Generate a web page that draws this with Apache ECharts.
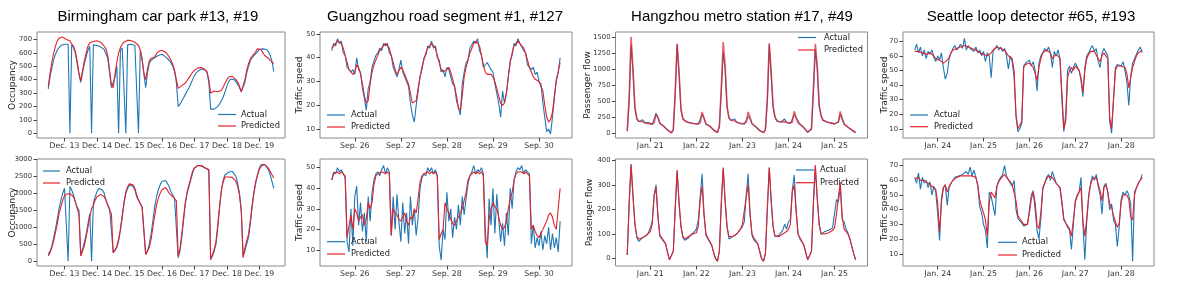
<!DOCTYPE html>
<html>
<head>
<meta charset="utf-8">
<script src="https://cdn.jsdelivr.net/npm/echarts@6/dist/echarts.min.js"></script>
<style>
html,body{margin:0;padding:0;background:#fff;}
#chart{width:1196px;height:283px;}
</style>
</head>
<body>
<div id="chart"></div>
<script>
// ---------------- DATA ----------------
const titles = ['Birmingham car park #13, #19', 'Guangzhou road segment #1, #127', 'Hangzhou metro station #17, #49', 'Seattle loop detector #65, #193'];
const seriesNames = ['Actual', 'Predicted'];

const bhamDays = ['Dec. 13', 'Dec. 14', 'Dec. 15', 'Dec. 16', 'Dec. 17', 'Dec. 18', 'Dec. 19'];
const gzDays = ['Sep. 26', 'Sep. 27', 'Sep. 28', 'Sep. 29', 'Sep. 30'];
const hzDays = ['Jan. 21', 'Jan. 22', 'Jan. 23', 'Jan. 24', 'Jan. 25'];
const seDays = ['Jan. 24', 'Jan. 25', 'Jan. 26', 'Jan. 27', 'Jan. 28'];

const bham13Ticks = [0, 100, 200, 300, 400, 500, 600, 700];
const bham19Ticks = [0, 500, 1000, 1500, 2000, 2500, 3000];
const gzTicks = [10, 20, 30, 40, 50];
const hz17Ticks = [0, 250, 500, 750, 1000, 1250, 1500];
const hz49Ticks = [0, 100, 200, 300, 400];
const seTicks = [10, 20, 30, 40, 50, 60, 70];

// Birmingham: 18 samples per day (08:00-16:30)
const bham13Actual = [
330,420,490,550,590,620,640,655,660,665,665,665,0,660,640,600,520,440,
380,450,520,570,620,650,0,660,660,655,650,645,635,625,615,560,450,340,
330,420,500,0,620,635,640,0,660,665,665,660,655,650,0,620,560,440,
340,450,520,545,555,565,575,580,585,590,580,570,560,545,525,500,460,380,
200,215,240,265,290,315,340,370,400,430,450,465,475,480,478,470,450,380,
180,180,180,185,200,220,245,270,310,350,385,405,410,400,385,365,340,310,
300,380,450,500,540,565,580,590,610,625,630,630,630,625,610,580,540,460];
const bham13Pred = [
350,450,530,600,650,690,710,720,718,712,700,705,690,665,650,610,540,450,
390,470,540,600,650,675,680,685,690,690,685,680,665,650,630,580,470,360,
340,440,530,600,640,665,680,690,695,695,690,685,680,670,655,620,550,450,
400,480,540,560,560,570,595,610,620,620,615,605,590,570,545,515,470,400,
335,340,355,365,375,395,415,435,455,470,480,488,490,490,485,475,460,400,
300,305,315,320,310,305,320,345,375,400,420,430,425,415,400,380,350,310,
310,400,470,520,555,575,590,610,630,640,625,600,580,570,560,545,530,520];
const bham19Actual = [
200,300,450,700,950,1250,1550,1800,2000,2150,2200,0,2200,2100,1950,1750,1600,1500,
200,350,550,800,1100,1400,0,1700,1900,2050,2150,2150,2100,2000,1800,1650,1550,1500,
250,300,400,600,900,1300,1700,2000,2150,2250,2250,2200,2100,1900,1800,1700,1600,1550,
200,300,500,800,1200,1600,1900,2100,2250,2350,2400,2380,2300,2200,2050,1950,1850,1800,
100,300,700,1200,1700,2000,2200,2400,2600,2750,2800,2820,2830,2800,2780,2750,2700,2680,
50,150,300,500,1000,1600,2100,2400,2550,2600,2620,2650,2650,2620,2500,2300,2000,1500,
150,300,500,700,1100,1600,2000,2300,2550,2750,2850,2870,2850,2800,2700,2550,2350,2150];
const bham19Pred = [
150,250,400,600,850,1100,1400,1600,1800,1920,1980,1990,1990,1970,1900,1750,1550,1400,
150,300,450,700,1000,1300,1550,1650,1800,1900,1950,1970,1950,1900,1800,1650,1500,1400,
250,320,450,650,950,1350,1750,2050,2200,2280,2300,2250,2150,1950,1800,1700,1600,1550,
200,250,400,650,1000,1350,1650,1850,2000,2100,2150,2170,2100,2000,1950,1900,1850,1780,
150,350,800,1300,1750,2050,2250,2450,2650,2750,2800,2820,2840,2820,2780,2750,2720,2700,
50,200,350,600,1100,1650,2100,2350,2480,2500,2480,2480,2470,2450,2350,2200,1950,1450,
100,400,600,800,1200,1650,2050,2350,2550,2700,2800,2850,2850,2800,2750,2650,2550,2450];

// Guangzhou: 24 samples per day
const gz1Actual = [
43,46,45,48,46,47,42,41,36,36,34,35,33,40,35,34,27,23,18,27,30,36,36,41,
42,44,43,46,45,46,42,41,36,36,32,35,39,34,34,30,28,21,16,13,20,26,32,35,
40,41,45,44,47,44,45,40,39,34,35,32,36,35,35,29,28,22,19,16,29,34,38,39,
44,44,47,46,48,43,41,36,36,38,38,35,34,29,25,21,15,26,21,25,32,39,41,46,
45,48,46,46,43,42,37,37,35,36,33,34,30,29,21,15,9,10,8,15,23,31,34,40];
const gz1Pred = [
44,45,46,47,47,46,44,41,38,35,34,33,34,37,36,33,29,24,21,22,29,34,37,39,
41,43,44,45,46,46,44,41,38,35,33,33,36,35,33,31,29,25,21,21,22,27,32,36,
39,42,44,45,46,45,44,41,38,35,34,34,35,36,34,31,28,24,19,18,24,32,36,39,
42,44,46,47,46,45,41,37,34,33,33,33,32,30,27,24,21,20,21,25,32,38,42,45,
46,47,46,45,44,42,39,36,34,32,31,31,30,30,26,20,15,13,14,17,24,30,34,38];
const gz127Actual = [
44,48,47,50,48,49,47,45,14,9,30,12,36,41,22,33,19,28,14,36,24,38,44,47,
48,46,49,51,47,50,48,17,36,20,37,24,14,33,18,28,13,36,22,30,17,26,40,45,
47,46,50,48,50,47,49,46,12,5,20,15,38,24,30,16,26,20,32,22,36,27,35,42,
46,48,51,47,49,48,50,47,20,6,35,22,40,18,37,25,14,23,12,28,17,40,30,44,
48,50,49,51,47,49,48,47,13,22,11,16,12,19,10,17,13,21,10,18,11,16,9,24];
const gz127Pred = [
44,47,47,48,47,48,47,46,16,22,27,20,30,28,24,26,27,22,25,33,30,33,42,46,
47,47,48,48,47,48,47,17,30,28,27,25,24,26,28,24,22,26,25,30,28,35,43,46,
47,47,48,47,48,47,48,46,15,18,20,33,30,28,25,23,22,24,26,28,30,34,38,44,
46,47,48,47,48,47,48,46,14,12,25,30,33,31,30,26,22,20,21,24,30,35,38,44,
47,48,48,48,47,48,47,46,20,22,19,17,16,18,20,22,24,27,28,26,22,20,30,40];

// Hangzhou: 24 samples per day
const hz17Actual = [
30,500,1380,950,380,220,180,170,210,160,150,165,140,130,150,310,250,150,130,110,80,50,20,5,
50,600,1380,900,350,220,190,175,165,160,150,150,145,140,150,290,230,140,125,110,80,50,20,10,
100,650,1250,1000,400,240,200,185,220,170,160,150,145,140,150,260,220,145,120,100,70,40,15,10,
50,500,1380,900,400,250,190,180,175,170,220,165,160,150,160,290,240,230,140,120,90,50,15,5,
60,650,1300,1000,420,280,200,180,175,170,160,150,145,140,170,290,220,140,110,90,70,50,30,10];
const hz17Pred = [
40,550,1500,1000,400,230,185,175,180,165,155,160,145,135,160,290,240,155,130,105,80,50,20,5,
60,650,1390,950,380,230,190,175,165,160,150,150,145,140,160,330,240,145,125,110,80,50,25,10,
110,700,1420,1050,420,240,200,185,190,170,160,150,145,140,170,330,250,150,120,100,70,40,15,10,
60,550,1400,950,420,250,190,180,175,170,180,165,160,150,170,340,240,160,135,115,90,50,15,5,
70,700,1390,1050,430,270,200,180,175,170,160,150,145,140,180,340,230,145,115,95,70,50,30,10];
const hz49Actual = [
15,220,380,250,140,85,70,65,85,80,95,105,125,150,260,300,170,90,80,85,60,25,-5,-10,
30,200,355,220,130,85,75,80,85,95,100,110,120,155,250,345,180,95,80,80,55,25,0,-10,
30,220,365,230,130,80,75,90,95,100,110,115,130,150,260,345,180,95,75,75,60,30,0,-10,
20,200,370,230,130,90,85,95,100,115,140,120,150,160,280,340,200,100,80,80,55,25,-5,-10,
30,220,370,240,140,100,95,110,105,115,110,125,130,240,230,290,160,150,120,105,80,50,20,-5];
const hz49Pred = [
15,230,385,260,140,90,80,75,85,90,95,100,110,140,250,290,170,95,85,80,60,25,-5,-10,
30,210,360,230,130,90,80,80,90,95,100,100,105,130,240,295,180,100,85,80,55,25,0,-10,
30,230,370,240,130,90,85,90,95,100,110,120,140,145,250,300,180,100,85,80,60,30,0,-10,
20,210,370,240,130,90,85,90,95,100,105,110,120,140,270,300,190,100,85,80,55,25,-5,-10,
30,230,380,250,140,100,95,100,100,105,110,115,125,180,250,310,170,120,110,100,80,50,20,-5];

// Seattle: 24 samples per day
const se65Actual = [
64,68,62,66,60,64,58,63,61,64,59,56,60,57,62,52,44,48,58,62,65,67,64,66,
68,65,72,64,67,65,66,63,66,62,64,60,63,56,62,60,45,63,65,67,64,66,63,65,
60,51,60,56,45,18,8,10,14,53,55,54,57,53,56,50,36,55,60,62,65,63,66,62,
52,63,60,64,58,30,8,20,50,53,48,52,55,54,50,43,32,52,60,62,65,67,63,65,
56,52,62,65,64,60,15,7,30,52,54,55,53,56,50,42,26,46,55,58,61,64,66,62];
const se65Pred = [
63,64,63,64,62,63,61,62,62,63,60,58,57,57,58,55,55,57,59,62,64,65,65,66,
66,66,67,66,66,65,65,64,64,63,62,62,61,60,60,59,62,64,65,66,65,65,64,64,
62,60,60,58,50,20,10,10,15,52,54,55,55,54,52,48,43,52,58,62,63,64,63,62,
58,60,60,60,58,35,10,15,45,50,52,50,53,52,50,45,35,50,58,61,63,64,63,62,
58,56,60,62,62,58,18,10,30,50,53,54,53,54,52,48,38,45,52,56,60,62,63,64];
const se193Actual = [
62,58,65,54,62,58,60,55,59,50,56,52,38,19,48,55,57,43,55,58,60,62,61,63,
62,64,63,66,64,69,63,67,62,56,42,38,30,26,14,52,49,50,36,56,60,62,64,70,
63,62,58,56,60,40,34,33,31,29,28,30,40,50,53,40,26,20,34,55,58,62,64,60,
66,62,58,57,55,44,33,31,28,26,13,30,46,50,52,62,30,6,32,48,58,63,60,64,
56,50,37,56,58,52,40,44,33,30,15,29,47,52,50,53,50,44,5,52,55,58,60,64];
const se193Pred = [
61,61,62,60,61,60,60,58,58,56,56,54,45,25,45,55,57,52,56,58,60,61,62,62,
63,63,63,64,63,64,63,64,62,57,47,42,38,33,22,45,52,50,48,56,59,61,62,64,
62,61,59,57,58,46,36,34,32,30,29,30,38,47,52,45,30,27,38,54,58,61,63,62,
62,61,58,57,55,46,34,31,29,27,22,33,45,49,52,55,32,22,34,50,57,61,60,62,
57,53,46,55,57,52,44,42,36,32,28,31,45,50,50,50,47,35,33,50,55,58,60,62];

// ---------------- LAYOUT / STYLE ----------------
const BLUE = '#1f77b4', RED = '#e3212b';
const FONT = 'DejaVu Sans';
const panels = [
  {grid:{left:37,top:32,width:248,height:106}, days:bhamDays, spd:18, x:[-0.847,6.79], y:[-36,756], ticks:bham13Ticks, name:'Occupancy', gap:19.5, a:bham13Actual, p:bham13Pred, lg:{x1:218,x2:236,tx:241,y1:114.5,y2:126}},
  {grid:{left:37,top:159,width:248,height:107}, days:bhamDays, spd:18, x:[-0.847,6.79], y:[-143,3013], ticks:bham19Ticks, name:'Occupancy', gap:19.5, a:bham19Actual, p:bham19Pred, lg:{x1:43,x2:60,tx:66,y1:171,y2:183}},
  {grid:{left:320,top:32,width:252,height:106}, days:gzDays, spd:24, x:[-0.755,4.716], y:[6.3,50.8], ticks:gzTicks, name:'Traffic speed', gap:15.5, a:gz1Actual, p:gz1Pred, lg:{x1:327,x2:345,tx:351,y1:115,y2:127}},
  {grid:{left:320,top:159,width:252,height:107}, days:gzDays, spd:24, x:[-0.755,4.716], y:[2.2,54.2], ticks:gzTicks, name:'Traffic speed', gap:15.5, a:gz127Actual, p:gz127Pred, lg:{x1:327,x2:345,tx:351,y1:241.7,y2:254}},
  {grid:{left:615.5,top:32,width:252,height:106}, days:hzDays, spd:24, x:[-0.755,4.716], y:[-75,1575], ticks:hz17Ticks, name:'Passenger flow', gap:23, a:hz17Actual, p:hz17Pred, lg:{x1:798,x2:816,tx:824,y1:37.5,y2:50}, alpha:0.72, pw:1.6},
  {grid:{left:615.5,top:159,width:252,height:107}, days:hzDays, spd:24, x:[-0.755,4.716], y:[-30,405], ticks:hz49Ticks, name:'Passenger flow', gap:21, a:hz49Actual, p:hz49Pred, lg:{x1:796,x2:814,tx:820,y1:170,y2:182.7}},
  {grid:{left:903,top:32,width:251,height:106}, days:seDays, spd:24, x:[-0.755,4.716], y:[3.7,76.3], ticks:seTicks, name:'Traffic speed', gap:13.5, a:se65Actual, p:se65Pred, lg:{x1:910,x2:928,tx:934,y1:115,y2:126.7}},
  {grid:{left:903,top:159,width:251,height:107}, days:seDays, spd:24, x:[-0.755,4.716], y:[1.7,74.5], ticks:seTicks, name:'Traffic speed', gap:13.5, a:se193Actual, p:se193Pred, lg:{x1:998,x2:1017,tx:1022,y1:242.3,y2:255}}
];

const grid = [], xAxis = [], yAxis = [], series = [], graphic = [];
panels.forEach((P, k) => {
  grid.push(Object.assign({show:true, borderColor:'#8a8a8a', borderWidth:1, backgroundColor:'transparent'}, P.grid));
  const dayIdx = P.days.map((d, i) => i);
  xAxis.push({
    type:'value', gridIndex:k, min:P.x[0], max:P.x[1],
    axisLine:{show:false, onZero:false},
    splitLine:{show:false},
    axisTick:{show:true, customValues:dayIdx, length:3.5, lineStyle:{color:'#444', width:1}},
    axisLabel:{show:true, customValues:dayIdx, formatter:v => P.days[Math.round(v)], fontSize:7.8, fontFamily:FONT, color:'#333', margin:4}
  });
  yAxis.push({
    type:'value', gridIndex:k, min:P.y[0], max:P.y[1],
    name:P.name, nameLocation:'middle', nameGap:P.gap, nameRotate:90, nameMoveOverlap:false,
    nameTextStyle:{fontSize:9, fontFamily:FONT, color:'#222'},
    axisLine:{show:false, onZero:false},
    splitLine:{show:false},
    axisTick:{show:true, customValues:P.ticks, length:3.5, lineStyle:{color:'#444', width:1}},
    axisLabel:{show:true, customValues:P.ticks, formatter:v => String(Math.round(v)), fontSize:6.8, fontFamily:FONT, color:'#333', margin:5}
  });
  const toPts = arr => arr.map((v, i) => [-0.5 + i / P.spd, v]);
  series.push({type:'line', name:seriesNames[0], xAxisIndex:k, yAxisIndex:k, data:toPts(P.a), showSymbol:false, symbol:'none', lineStyle:{color:BLUE, width:1.1}, silent:true, z:2});
  series.push({type:'line', name:seriesNames[1], xAxisIndex:k, yAxisIndex:k, data:toPts(P.p), showSymbol:false, symbol:'none', lineStyle:{color:RED, width:P.pw || 1.1, opacity:P.alpha || 1}, silent:true, z:3});
  // legend (drawn as graphic items)
  const L = P.lg;
  graphic.push({type:'line', shape:{x1:L.x1, y1:L.y1, x2:L.x2, y2:L.y1}, style:{stroke:BLUE, lineWidth:1.2}, z:10});
  graphic.push({type:'line', shape:{x1:L.x1, y1:L.y2, x2:L.x2, y2:L.y2}, style:{stroke:RED, lineWidth:(P.pw||1.2), opacity:P.alpha||1}, z:10});
  graphic.push({type:'text', x:L.tx, y:L.y1, style:{text:seriesNames[0], fontSize:8.3, fontFamily:FONT, fill:'#222', verticalAlign:'middle', align:'left'}, z:10});
  graphic.push({type:'text', x:L.tx, y:L.y2, style:{text:seriesNames[1], fontSize:8.3, fontFamily:FONT, fill:'#222', verticalAlign:'middle', align:'left'}, z:10});
});
// titles
const titleCenters = [158, 445, 742, 1031];
titles.forEach((t, i) => {
  graphic.push({type:'text', x:titleCenters[i], y:17, style:{text:t, fontSize:15, fontFamily:'Liberation Sans', fill:'#000', align:'center', verticalAlign:'middle'}});
});

const chart = echarts.init(document.getElementById('chart'), null, {renderer:'canvas'});
chart.setOption({animation:false, grid, xAxis, yAxis, series, graphic});
</script>
</body>
</html>
